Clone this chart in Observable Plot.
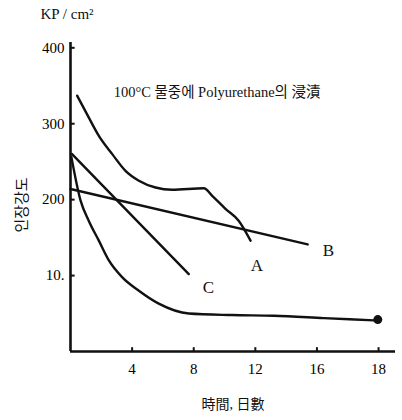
<!DOCTYPE html>
<html>
<head>
<meta charset="utf-8">
<script src="https://cdn.jsdelivr.net/npm/d3@7"></script>
<script src="https://cdn.jsdelivr.net/npm/@observablehq/plot@0.6"></script>
<style>
  body { margin: 0; background: #fff; }
  svg { font-family: "Liberation Serif", "Noto Sans CJK KR", serif; }
</style>
</head>
<body>
<div id="chart"></div>
<script>
// Series values (days, tensile strength kg/cm²)
const aDays = [0.43, 1.19, 1.84, 2.71, 3.57, 4.44, 5.52, 6.6, 8.66, 9.2, 10.06, 10.93, 11.69];
const aVals = [337, 308, 284, 260, 238, 225, 216, 213, 215, 205, 188, 172, 146];
const bDays = [0, 15.4];
const bVals = [214, 141];
const cDays = [0.1, 7.68];
const cVals = [260, 102];
const dDays = [0.06, 0.65, 1.19, 1.84, 2.49, 3.35, 4.44, 5.73, 7.68, 10.5, 13.2, 16.45, 19.7];
const dVals = [256, 199, 172, 146, 120, 98, 80, 63, 50, 48, 47, 44, 41];
const dEnd = [{day: 19.95, val: 42}];

const xTicks = [4, 8, 12, 16, 20];
const xTickLabels = ["4", "8", "12", "16", "18"];
const yTicks = [100, 200, 300, 400];
const yTickLabels = ["10.", "200", "300", "400"];

const seriesLabels = [
  {name: "A", day: 12.1, val: 113},
  {name: "B", day: 16.75, val: 133},
  {name: "C", day: 8.96, val: 84}
];
const annotation = [{text: "100°C 물중에 Polyurethane의 浸漬", day: 2.8, val: 341}];

const mk = (xs, ys) => xs.map((d, i) => ({day: d, val: ys[i]}));
const A = mk(aDays, aVals), B = mk(bDays, bVals), C = mk(cDays, cVals), D = mk(dDays, dVals);

const lineOpts = {x: "day", y: "val", stroke: "#111", strokeWidth: 2.4, curve: "monotone-x"};

const chart = Plot.plot({
  width: 402,
  height: 420,
  marginLeft: 70,
  marginRight: 7,
  marginTop: 42,
  marginBottom: 69,
  x: {domain: [0, 21.1]},
  y: {domain: [0, 407]},
  style: {fontFamily: "'Liberation Serif', 'Noto Sans CJK KR', serif", background: "#fff"},
  marks: [
    Plot.axisX({ticks: xTicks, tickFormat: (d) => xTickLabels[xTicks.indexOf(d)], tickSize: 0, tickPadding: 12, fontSize: 15, label: null}),
    Plot.axisY({ticks: yTicks, tickFormat: (d) => yTickLabels[yTicks.indexOf(d)], tickSize: 0, tickPadding: 6, fontSize: 15, label: null}),
    Plot.ruleY(yTicks, {x1: 0, x2: 0.3, stroke: "#111", strokeWidth: 2}),
    Plot.ruleX(xTicks, {y1: 0, y2: 5, stroke: "#111", strokeWidth: 2}),
    Plot.ruleX([0], {y1: 0, y2: 407, stroke: "#111", strokeWidth: 2.6}),
    Plot.ruleY([0], {x1: 0, x2: 21.1, stroke: "#111", strokeWidth: 2.6}),
    Plot.line(A, lineOpts),
    Plot.line(B, {...lineOpts, curve: "linear"}),
    Plot.line(C, {...lineOpts, curve: "linear"}),
    Plot.line(D, lineOpts),
    Plot.dot(dEnd, {x: "day", y: "val", r: 4.5, fill: "#111"}),
    Plot.text(seriesLabels, {x: "day", y: "val", text: "name", fontSize: 17, fill: "#111"}),
    Plot.text(annotation, {x: "day", y: "val", text: "text", textAnchor: "start", fontSize: 14.5, fill: "#111"}),
    Plot.text(["KP / cm²"], {frameAnchor: "top-left", dx: -30, dy: -34, textAnchor: "start", fontSize: 15, fill: "#111"}),
    Plot.text(["인장강도"], {frameAnchor: "left", textAnchor: "middle", dx: -48, dy: 8, rotate: -90, fontSize: 15, fill: "#111"}),
    Plot.text(["時間, 日數"], {frameAnchor: "bottom", dy: 57, dx: 0, fontSize: 14, fill: "#111"})
  ]
});
document.getElementById("chart").appendChild(chart);
</script>
</body>
</html>
